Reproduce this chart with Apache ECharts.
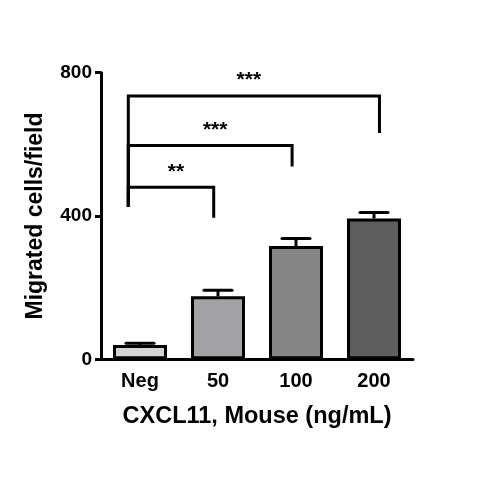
<!DOCTYPE html>
<html>
<head>
<meta charset="utf-8">
<script src="https://cdn.jsdelivr.net/npm/echarts@6/dist/echarts.min.js"></script>
<style>
html,body{margin:0;padding:0;background:#fff;}
#chart{width:480px;height:480px;}
</style>
</head>
<body>
<div id="chart"></div>
<script>
// ---- data ----
const categories = ['Neg', '50', '100', '200'];
const means = [40, 176, 316, 393];
const errors = [5, 17, 21, 17];
const barColors = ['#d4d4d4', '#a3a3a5', '#858585', '#5e5e5e'];
const yTicks = [0, 400, 800];
const xAxisTitle = 'CXCL11, Mouse (ng/mL)';
const yAxisTitle = 'Migrated cells/field';
// significance brackets: from/to category index, bracket height, drop ends (values)
const bracketFrom = [0, 0, 0];
const bracketTo = [1, 2, 3];
const bracketTop = [480, 597, 735];
const bracketLeftEnd = [425, 425, 425];
const bracketRightEnd = [395, 538, 632];
const bracketLabels = ['**', '***', '***'];

// ---- style constants ----
const FONT = 'Liberation Sans, Arial, sans-serif';
const leftOffset = -0.15;
const rightOffsets = [-0.055, -0.05, 0.07];
const labelShift = [5, 5, -5];

const chart = echarts.init(document.getElementById('chart'), null, {renderer: 'canvas'});

const bracketData = bracketTop.map((t, i) => [bracketFrom[i] + leftOffset, bracketTo[i] + rightOffsets[i], t, bracketLeftEnd[i], bracketRightEnd[i]]);

const option = {
  animation: false,
  backgroundColor: '#ffffff',
  grid: {left: 101, right: 67, top: 72.7, bottom: 120.7, containLabel: false},
  xAxis: [{
    type: 'category',
    data: categories,
    axisLine: {lineStyle: {color: '#000', width: 3}},
    axisTick: {alignWithLabel: true, length: 8, lineStyle: {color: '#000', width: 3}},
    axisLabel: {color: '#000', fontSize: 20, fontWeight: 'bold', fontFamily: FONT, margin: 12},
    name: xAxisTitle,
    nameLocation: 'middle',
    nameGap: 45,
    nameTextStyle: {color: '#000', fontSize: 23.5, fontWeight: 'bold', fontFamily: FONT}
  }, {
    type: 'value',
    min: -0.5, max: 3.5,
    show: false
  }],
  yAxis: {
    type: 'value',
    min: yTicks[0], max: yTicks[yTicks.length - 1], interval: yTicks[1] - yTicks[0],
    axisLine: {show: true, onZero: false, lineStyle: {color: '#000', width: 3}},
    axisTick: {show: true, length: 6, lineStyle: {color: '#000', width: 3}},
    axisLabel: {color: '#000', fontSize: 19, fontWeight: 'bold', fontFamily: FONT, margin: 9},
    splitLine: {show: false},
    name: yAxisTitle,
    nameLocation: 'middle',
    nameGap: 54,
    nameTextStyle: {color: '#000', fontSize: 23, fontWeight: 'bold', fontFamily: FONT}
  },
  series: [{
    type: 'bar',
    xAxisIndex: 0,
    barWidth: 54,
    data: means.map((v, i) => ({value: v, itemStyle: {color: barColors[i]}})),
    itemStyle: {borderColor: '#000', borderWidth: 3},
    z: 2
  }, {
    type: 'custom',
    xAxisIndex: 0,
    data: means.map((v, i) => [i, v, v + errors[i]]),
    renderItem: function (params, api) {
      const base = api.coord([api.value(0), api.value(1)]);
      const top = api.coord([api.value(0), api.value(2)]);
      const hw = 14;
      return {
        type: 'group',
        children: [
          {type: 'line', shape: {x1: base[0], y1: base[1], x2: top[0], y2: top[1]}, style: {stroke: '#000', lineWidth: 3}},
          {type: 'line', shape: {x1: top[0] - hw, y1: top[1], x2: top[0] + hw, y2: top[1]}, style: {stroke: '#000', lineWidth: 3, lineCap: 'round'}}
        ]
      };
    },
    z: 3
  }, {
    type: 'custom',
    xAxisIndex: 1,
    data: bracketData,
    renderItem: function (params, api) {
      const x1 = api.value(0), x2 = api.value(1), t = api.value(2), le = api.value(3), re = api.value(4);
      const pTL = api.coord([x1, t]);
      const pTR = api.coord([x2, t]);
      const pBL = api.coord([x1, le]);
      const pBR = api.coord([x2, re]);
      const label = bracketLabels[params.dataIndex];
      return {
        type: 'group',
        children: [
          {type: 'polyline', shape: {points: [pBL, pTL, pTR, pBR]}, style: {stroke: '#000', lineWidth: 3, fill: null}},
          {type: 'text', x: (pTL[0] + pTR[0]) / 2 + labelShift[params.dataIndex], y: pTL[1] - 5,
           style: {text: label, fill: '#000', font: 'bold 21px ' + FONT, textAlign: 'center', textVerticalAlign: 'bottom'}}
        ]
      };
    },
    z: 4
  }]
};
chart.setOption(option);
</script>
</body>
</html>
